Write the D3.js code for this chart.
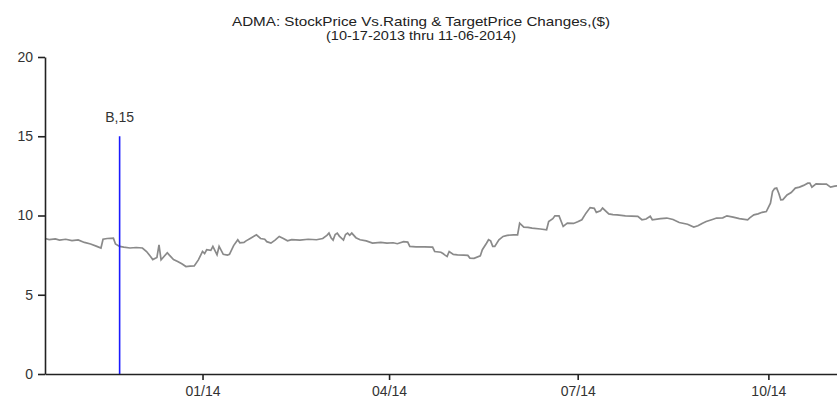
<!DOCTYPE html>
<html>
<head>
<meta charset="utf-8">
<script src="https://cdn.jsdelivr.net/npm/d3@7"></script>
<style>
  body { margin: 0; background: #fff; }
  text { font-family: "Liberation Sans", Arial, sans-serif; }
</style>
</head>
<body>
<script>
// price series (date, close)
var dates = [
  "2013-10-17","2013-10-19","2013-10-22","2013-10-24","2013-10-27","2013-10-30","2013-11-02","2013-11-05",
  "2013-11-08","2013-11-11","2013-11-13","2013-11-14","2013-11-16","2013-11-19","2013-11-20","2013-11-22",
  "2013-11-24","2013-11-27","2013-11-30","2013-12-03","2013-12-05","2013-12-07","2013-12-08","2013-12-10",
  "2013-12-11","2013-12-12","2013-12-13","2013-12-15","2013-12-16","2013-12-18","2013-12-20","2013-12-22",
  "2013-12-24","2013-12-26","2013-12-28","2013-12-30","2014-01-01","2014-01-02","2014-01-03","2014-01-05",
  "2014-01-06","2014-01-08","2014-01-09","2014-01-11","2014-01-13","2014-01-14","2014-01-16","2014-01-18",
  "2014-01-19","2014-01-21","2014-01-22","2014-01-24","2014-01-27","2014-01-29","2014-01-31","2014-02-01",
  "2014-02-03","2014-02-05","2014-02-07","2014-02-09","2014-02-11","2014-02-13","2014-02-17","2014-02-21",
  "2014-02-25","2014-02-28","2014-03-02","2014-03-03","2014-03-04","2014-03-05","2014-03-06","2014-03-07",
  "2014-03-08","2014-03-10","2014-03-11","2014-03-12","2014-03-13","2014-03-14","2014-03-16","2014-03-18",
  "2014-03-21","2014-03-24","2014-03-28","2014-03-31","2014-04-03","2014-04-05","2014-04-08","2014-04-10",
  "2014-04-11","2014-04-14","2014-04-18","2014-04-22","2014-04-23","2014-04-26","2014-04-27","2014-04-28",
  "2014-04-29","2014-04-30","2014-05-02","2014-05-04","2014-05-07","2014-05-09","2014-05-10","2014-05-12",
  "2014-05-15","2014-05-16","2014-05-18","2014-05-19","2014-05-20","2014-05-21","2014-05-22","2014-05-24",
  "2014-05-26","2014-05-28","2014-05-31","2014-06-02","2014-06-03","2014-06-05","2014-06-07","2014-06-09",
  "2014-06-13","2014-06-16","2014-06-17","2014-06-19","2014-06-20","2014-06-22","2014-06-24","2014-06-26",
  "2014-06-29","2014-07-01","2014-07-03","2014-07-05","2014-07-07","2014-07-09","2014-07-10","2014-07-12",
  "2014-07-13","2014-07-16","2014-07-18","2014-07-20","2014-07-24","2014-07-27","2014-07-30","2014-08-01",
  "2014-08-03","2014-08-05","2014-08-06","2014-08-10","2014-08-13","2014-08-16","2014-08-19","2014-08-23",
  "2014-08-26","2014-08-28","2014-08-30","2014-09-01","2014-09-04","2014-09-06","2014-09-09","2014-09-11",
  "2014-09-14","2014-09-17","2014-09-21","2014-09-22","2014-09-24","2014-09-26","2014-09-28","2014-09-30",
  "2014-10-02","2014-10-03","2014-10-04","2014-10-05","2014-10-06","2014-10-07","2014-10-08","2014-10-10",
  "2014-10-12","2014-10-14","2014-10-16","2014-10-18","2014-10-20","2014-10-21","2014-10-22","2014-10-24",
  "2014-10-27","2014-10-29","2014-10-31","2014-11-02","2014-11-03","2014-11-06"
];
var prices = [
  8.55, 8.48, 8.52, 8.45, 8.50, 8.42, 8.46, 8.30,
  8.20, 8.05, 7.95, 8.50, 8.55, 8.57, 8.20, 8.05,
  8.00, 7.95, 7.98, 7.95, 7.73, 7.40, 7.22, 7.35,
  8.15, 7.20, 7.35, 7.65, 7.50, 7.22, 7.10, 6.95,
  6.78, 6.80, 6.82, 7.20, 7.73, 7.60, 7.84, 7.80,
  8.05, 7.52, 8.05, 7.55, 7.50, 7.55, 8.10, 8.47,
  8.28, 8.30, 8.40, 8.55, 8.78, 8.55, 8.50, 8.35,
  8.26, 8.45, 8.68, 8.55, 8.40, 8.48, 8.45, 8.50,
  8.47, 8.55, 8.75, 8.89, 8.60, 8.45, 8.80, 8.89,
  8.70, 8.45, 8.80, 8.89, 8.75, 8.89, 8.60, 8.47,
  8.40, 8.26, 8.30, 8.26, 8.28, 8.22, 8.35, 8.32,
  8.05, 8.02, 8.02, 8.01, 7.73, 7.68, 7.60, 7.50,
  7.42, 7.73, 7.55, 7.52, 7.50, 7.48, 7.31, 7.30,
  7.45, 7.84, 8.25, 8.47, 8.40, 8.05, 8.05, 8.47,
  8.68, 8.75, 8.78, 8.78, 9.52, 9.27, 9.25, 9.20,
  9.15, 9.10, 9.62, 9.80, 9.98, 9.98, 9.31, 9.52,
  9.50, 9.60, 9.73, 10.15, 10.50, 10.45, 10.20, 10.30,
  10.47, 10.10, 10.05, 10.04, 9.98, 9.96, 9.94, 9.73,
  9.78, 9.95, 9.73, 9.80, 9.84, 9.75, 9.56, 9.45,
  9.27, 9.35, 9.50, 9.62, 9.75, 9.84, 9.85, 9.98,
  9.90, 9.80, 9.73, 9.85, 10.04, 10.10, 10.20, 10.25,
  10.78, 11.51, 11.70, 11.73, 11.40, 10.99, 11.00, 11.30,
  11.45, 11.73, 11.79, 11.90, 12.04, 12.04, 11.79, 12.00,
  11.98, 11.98, 11.79, 11.85, 11.87, 11.90
];

// rating / target price changes
var ratingDates = ["2013-11-22"];
var ratingCodes = ["B"];
var ratingTargets = [15];

var yTicks = [0, 5, 10, 15, 20];
var xTicks = ["2014-01-01", "2014-04-01", "2014-07-01", "2014-10-01"];
var startDate = "2013-10-17", endDate = "2014-11-06";

var width = 837, height = 404;
var margin = {top: 57, left: 45, bottom: 30};

var parse = d3.timeParse("%Y-%m-%d");

var svg = d3.select("body").append("svg")
    .attr("width", width)
    .attr("height", height);

var x = d3.scaleTime()
    .domain([parse(startDate), parse(endDate)])
    .range([margin.left, 843]);

var y = d3.scaleLinear()
    .domain([0, 20])
    .range([374, margin.top]);

// title
svg.append("text")
    .attr("x", 421).attr("y", 26)
    .attr("text-anchor", "middle")
    .attr("textLength", 378).attr("lengthAdjust", "spacingAndGlyphs")
    .style("font-size", "13px").style("fill", "#222")
    .text("ADMA: StockPrice Vs.Rating & TargetPrice Changes,($)");
svg.append("text")
    .attr("x", 421).attr("y", 40)
    .attr("text-anchor", "middle")
    .attr("textLength", 190).attr("lengthAdjust", "spacingAndGlyphs")
    .style("font-size", "13px").style("fill", "#222")
    .text("(10-17-2013 thru 11-06-2014)");

// price line
var data = dates.map(function(d, i) { return {date: parse(d), price: prices[i]}; });

var line = d3.line()
    .x(function(d) { return x(d.date); })
    .y(function(d) { return y(d.price); });

svg.append("path")
    .datum(data)
    .attr("d", line)
    .style("fill", "none")
    .style("stroke", "#8a8a8a")
    .style("stroke-width", 1.7);

// rating markers
ratingDates.forEach(function(d, i) {
    var xx = x(parse(d));
    svg.append("line")
        .attr("x1", xx).attr("x2", xx)
        .attr("y1", y(0)).attr("y2", y(ratingTargets[i]))
        .style("stroke", "#1a1aff")
        .style("stroke-width", 1.6);
    svg.append("text")
        .attr("x", xx).attr("y", y(ratingTargets[i]) - 14)
        .attr("text-anchor", "middle")
        .style("font-size", "14px").style("fill", "#333")
        .text(ratingCodes[i] + "," + ratingTargets[i]);
});

// axes
var yAxis = svg.append("g")
    .attr("transform", "translate(" + margin.left + ",0)")
    .call(d3.axisLeft(y).tickValues(yTicks).tickSize(7).tickSizeOuter(0).tickPadding(5));

var xAxis = svg.append("g")
    .attr("transform", "translate(0," + y(0) + ")")
    .call(d3.axisBottom(x).tickValues(xTicks.map(parse))
        .tickFormat(d3.timeFormat("%m/%y")).tickSize(6).tickSizeOuter(0).tickPadding(6));

svg.selectAll(".domain, .tick line")
    .style("stroke", "#222")
    .style("stroke-width", 1.6);
svg.selectAll(".tick text")
    .style("font-family", "'Liberation Sans', Arial, sans-serif")
    .style("font-size", "14px")
    .style("fill", "#333");
</script>
</body>
</html>
